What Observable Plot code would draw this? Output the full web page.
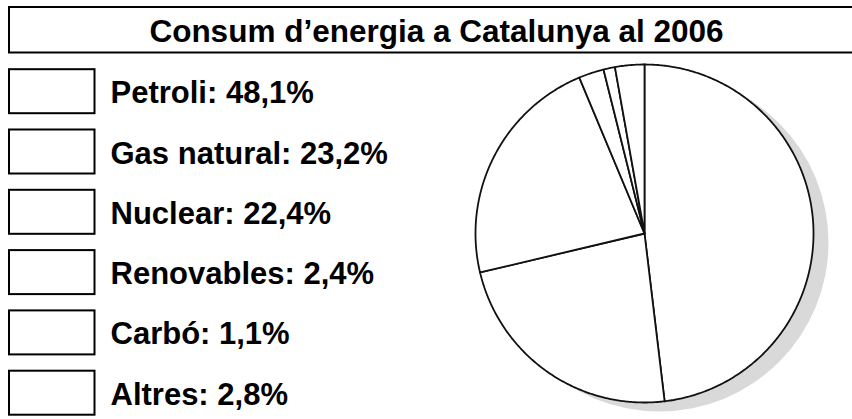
<!DOCTYPE html>
<html><head><meta charset="utf-8">
<script src="https://cdn.jsdelivr.net/npm/d3@7"></script>
<script src="https://cdn.jsdelivr.net/npm/@observablehq/plot@0.6"></script>
<style>html,body{margin:0;padding:0;background:#fff;}</style>
</head><body><div id="chart"></div>
<script>
// ---- data ----
const title = "Consum d’energia a Catalunya al 2006";
const categories = ["Petroli", "Gas natural", "Nuclear", "Renovables", "Carbó", "Altres"];
const values = [48.1, 23.2, 22.4, 2.4, 1.1, 2.8];

// ---- layout (pixels) ----
const W = 852, H = 419;
const cx = 644, cy = 233, R = 169;
const shadowDx = 15, shadowDy = 9;
const titleBox = {x1: 9, x2: W + 10, y1: 7, y2: 52.5};
const titleX = 436, titleBaseline = 41;
const rowTop0 = 69.2, rowStep = 60.3, boxH = 44, boxX1 = 9, boxX2 = 94.5;
const textX = 110, baselineOffset = 33.5;
const FONT = "'Liberation Sans', Arial, Helvetica, sans-serif";

const fmt = v => v.toFixed(1).replace(".", ",") + "%";
const rows = categories.map((name, i) => ({
  name, label: `${name}: ${fmt(values[i])}`, top: rowTop0 + i * rowStep
}));

const arcs = d3.pie().sort(null).value(d => d.value)(
  categories.map((name, i) => ({name, value: values[i]}))
);
const slicePts = [];
for (const a of arcs) {
  const n = Math.max(2, Math.ceil((a.endAngle - a.startAngle) / (Math.PI / 360)));
  slicePts.push({name: a.data.name, x: cx, y: cy});
  for (let k = 0; k <= n; k++) {
    const t = a.startAngle + (a.endAngle - a.startAngle) * k / n;
    slicePts.push({name: a.data.name, x: cx + R * Math.sin(t), y: cy - R * Math.cos(t)});
  }
  slicePts.push({name: a.data.name, x: cx, y: cy});
}

const chart = Plot.plot({
  width: W, height: H, margin: 0,
  x: {domain: [0, W], range: [0, W], axis: null},
  y: {domain: [0, H], range: [0, H], axis: null},
  style: {background: "#fff", fontFamily: FONT},
  marks: [
    Plot.rect([title], {x1: titleBox.x1, x2: titleBox.x2, y1: titleBox.y1, y2: titleBox.y2,
      fill: "white", stroke: "black", strokeWidth: 2}),
    Plot.text([title], {x: titleX, y: titleBaseline, text: d => d, fontSize: 31.5, fontWeight: "bold",
      fontFamily: FONT, lineAnchor: "bottom", textAnchor: "middle", fill: "black"}),
    Plot.rect(rows, {x1: boxX1, x2: boxX2, y1: "top", y2: d => d.top + boxH,
      fill: "white", stroke: "black", strokeWidth: 2}),
    Plot.text(rows, {x: textX, y: d => d.top + baselineOffset, text: "label", fontSize: 31,
      fontWeight: "bold", fontFamily: FONT, lineAnchor: "bottom", textAnchor: "start", fill: "black"}),
    Plot.dot([0], {x: cx + shadowDx, y: cy + shadowDy, r: R, fill: "#d9d9d9", stroke: "none"}),
    Plot.line(slicePts, {x: "x", y: "y", z: "name", fill: "white", stroke: "#111",
      strokeWidth: 1.8, strokeLinejoin: "round", curve: "linear"})
  ]
});
document.getElementById("chart").append(chart);
</script>
</body></html>
